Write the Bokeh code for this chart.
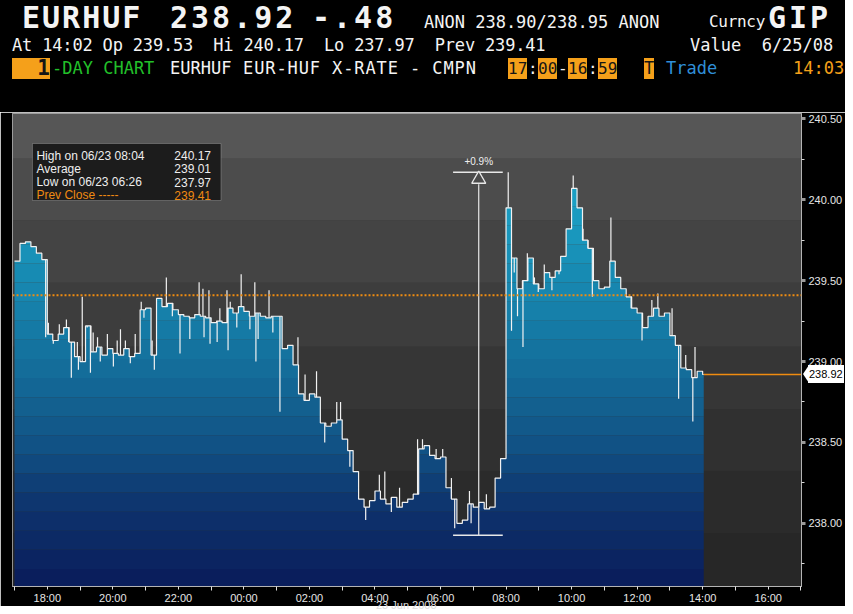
import numpy as np
from bokeh.plotting import figure
from bokeh.layouts import column
from bokeh.models import (Label, BoxAnnotation, Span, FixedTicker, PrintfTickFormatter,
                          Range1d, Div)
from bokeh.embed import file_html
from bokeh.resources import INLINE

# ---------------- data ----------------
# minutes since 17:00 (22 Jun 2008), 10-minute bars, last print at 14:02
bar_minutes = list(range(0, 1261, 10)) + [1262]
close = [239.62, 239.73, 239.74, 239.71, 239.67, 239.63, 239.17, 239.13, 239.17, 239.21,
         239.12, 239.03, 239.00, 239.22, 239.06, 239.09, 239.04, 239.08, 239.05, 239.04,
         239.08, 239.03, 239.05, 239.32, 239.33, 239.04, 239.39, 239.34, 239.36, 239.32,
         239.29, 239.28, 239.27, 239.29, 239.28, 239.27, 239.24, 239.25, 239.24, 239.33,
         239.30, 239.34, 239.31, 239.28, 239.30, 239.28, 239.27, 239.28, 239.28, 239.08,
         239.10, 238.98, 238.80, 238.76, 238.80, 238.78, 238.62, 238.60, 238.62, 238.64,
         238.52, 238.45, 238.32, 238.15, 238.10, 238.14, 238.20, 238.15, 238.12, 238.16,
         238.10, 238.13, 238.15, 238.18, 238.46, 238.48, 238.42, 238.40, 238.41, 238.22,
         238.15, 238.00, 238.02, 238.12, 238.10, 238.13, 238.09, 238.10, 238.28, 238.40,
         239.95, 239.64, 239.45, 239.50, 239.64, 239.48, 239.45, 239.55, 239.52, 239.56,
         239.65, 239.82, 240.07, 239.95, 239.75, 239.70, 239.50, 239.45, 239.46, 239.62,
         239.52, 239.45, 239.40, 239.33, 239.30, 239.21, 239.28, 239.33, 239.28, 239.30,
         239.16, 239.10, 238.96, 238.95, 238.90, 238.94, 238.92, 238.92]
spike_minutes = [57, 62, 71, 82, 95, 99, 104, 115, 117, 124, 133, 139, 144, 152, 157, 170,
                 181, 188, 194, 203, 212, 221, 232, 237, 252, 256, 278, 289, 303, 321, 338,
                 345, 347, 356, 358, 371, 376, 389, 391, 395, 407, 415, 431, 440, 442, 446,
                 466, 473, 486, 519, 532, 553, 568, 590, 597, 614, 643, 668, 678, 690, 705,
                 738, 747, 772, 784, 800, 806, 833, 836, 864, 904, 910, 915, 921, 931, 939,
                 952, 959, 970, 984, 997, 1023, 1041, 1050, 1058, 1067, 1092, 1107, 1129,
                 1149, 1167, 1178, 1204, 1216, 1229, 1242, 1246]
spike_values = [239.15, 239.24, 239.11, 239.23, 239.26, 239.12, 238.90, 239.12, 238.95, 239.40,
                239.21, 238.93, 239.18, 239.15, 239.00, 239.17, 238.97, 239.13, 239.20, 239.13,
                238.99, 239.17, 239.37, 239.27, 239.13, 238.95, 239.52, 239.28, 239.05, 239.14,
                239.49, 239.45, 239.15, 239.44, 239.11, 239.12, 239.33, 239.44, 239.07, 239.37,
                239.21, 239.54, 239.20, 239.49, 239.00, 239.14, 239.44, 239.18, 238.69, 239.15,
                238.92, 238.94, 238.50, 238.75, 238.75, 238.35, 238.02, 238.30, 238.32, 238.07,
                238.22, 238.52, 238.52, 238.46, 238.46, 238.28, 237.97, 238.20, 238.00, 238.18,
                240.17, 239.19, 239.55, 239.28, 239.09, 239.67, 239.52, 239.43, 239.60, 239.44,
                239.54, 240.15, 239.82, 239.75, 239.40, 239.50, 239.89, 239.52, 239.33, 239.13,
                239.38, 239.42, 239.33, 238.77, 239.04, 238.63, 239.09]
prev_close = 239.41
last_price = 238.92
high_val, high_min = 240.17, 904
low_val, low_min = 237.97, 806
avg_val = 239.01
x_tick_minutes = [60, 180, 300, 420, 540, 660, 780, 900, 1020, 1140, 1260, 1380]
x_tick_labels = ["18:00", "20:00", "22:00", "00:00", "02:00", "04:00",
                 "06:00", "08:00", "10:00", "12:00", "14:00", "16:00"]
x_minor_minutes = [0, 120, 240, 360, 480, 600, 720, 840, 960, 1080, 1200, 1320, 1440]
date_label = "23 Jun 2008"
y_ticks = [238.0, 238.5, 239.0, 239.5, 240.0, 240.5]
y_minor = [237.75, 238.25, 238.75, 239.25, 239.75, 240.25]

# ---------------- geometry (reference pixels -> data) ----------------
TOTAL_W, TOTAL_H = 845, 606
HDR_H = 112
FR_L, FR_R, FR_T, FR_B = 12, 803, 113, 586
PX_PER_UNIT = 161.8
X0, X1 = -3.7, 1441.0
Y1 = 240.533
Y0 = Y1 - (FR_B - FR_T) / PX_PER_UNIT


def px_x(px):
    return X0 + (px - FR_L) / (FR_R - FR_L) * (X1 - X0)


def px_y(py):
    return Y1 - (py - FR_T) / (FR_B - FR_T) * (Y1 - Y0)


DY = (Y1 - Y0) / (FR_B - FR_T)   # data per px

# ---------------- header (Bloomberg-style text rows, HTML text) ----------------
MONO = "'DejaVu Sans Mono', monospace"
parts = []


def tok(text, left, top, size, color, bold=False, bg=None, ls=0.0, h=None, w=None,
        align="left", font=MONO):
    st = ["position:absolute", "left:%dpx" % left, "top:%dpx" % top,
          "font-family:%s" % font, "font-size:%dpx" % size, "color:%s" % color,
          "white-space:pre", "letter-spacing:%.2fpx" % ls, "z-index:50"]
    st.append("font-weight:%s" % ("bold" if bold else "normal"))
    if h is not None:
        st += ["height:%dpx" % h, "line-height:%dpx" % h]
    else:
        st.append("line-height:1")
    if w is not None:
        st += ["width:%dpx" % w, "text-align:%s" % align]
    if bg:
        st.append("background:%s" % bg)
    parts.append('<span style="%s">%s</span>' % (";".join(st), text))


W = "#f4f4f4"
OR = "#f5a01a"
DK = "#151515"
# row 1
tok("EURHUF", 22, 3, 30, W, bold=True, ls=2.0)
tok("238.92", 170, 3, 30, W, bold=True, ls=3.0)
tok("-.48", 312, 3, 30, W, bold=True, ls=3.0)
tok("ANON 238.90/238.95 ANON", 424, 14, 17, W)
tok("Curncy", 709, 14, 16, W, ls=-0.3)
tok("GIP", 768, 3, 30, W, bold=True, ls=3.0)
# row 2
tok("At 14:02 Op 239.53  Hi 240.17  Lo 237.97  Prev 239.41", 12, 37, 17, W, ls=-0.17)
tok("Value  6/25/08", 690, 37, 17, W)
# row 3 (boxes 58..79)
tok("1", 12, 58, 21, DK, bold=True, bg=OR, h=21, w=38, align="right")
tok("-DAY CHART", 52, 58, 17, "#22c02a", h=21)
tok("EURHUF", 170, 58, 17, W, h=21)
tok("EUR-HUF X-RATE - CMPN", 243, 58, 17, W, h=21, ls=0.9)
tok("17", 508, 58, 16, DK, bg=OR, h=21)
tok(":", 528, 58, 16, W, h=21)
tok("00", 538, 58, 16, DK, bg=OR, h=21)
tok("-", 558, 58, 16, W, h=21)
tok("16", 568, 58, 16, DK, bg=OR, h=21)
tok(":", 588, 58, 16, W, h=21)
tok("59", 598, 58, 16, DK, bg=OR, h=21)
tok("T", 644, 58, 17, DK, bg=OR, h=21)
tok("Trade", 666, 58, 17, "#2f8fd8", h=21)
tok("14:03", 793, 58, 17, OR, h=21)

# last-price tag sitting on the price axis (HTML overlay)
tag_y = 374
parts.append('<span style="position:absolute;left:%dpx;top:%dpx;width:0;height:0;'
             'border-top:9px solid transparent;border-bottom:9px solid transparent;'
             'border-right:6px solid #ffffff;z-index:50"></span>' % (803, tag_y - 9))
parts.append('<span style="position:absolute;left:%dpx;top:%dpx;width:36px;height:18px;'
             'line-height:18px;background:#ffffff;color:#000000;font-family:\'Liberation Sans\',Arial;'
             'font-size:11px;text-align:left;padding-left:1px;z-index:50">%.2f</span>'
             % (808, tag_y - 9, last_price))
# date caption under the time axis
tok(date_label, 376, 600, 11, "#dddddd", font="'Liberation Sans', Arial")

html = ('<div style="position:relative;width:%dpx;height:%dpx;background:#000000;overflow:visible;z-index:50">'
        % (TOTAL_W, HDR_H) + "".join(parts) + "</div>")
header = Div(text=html, width=TOTAL_W, height=HDR_H, margin=0,
             styles={"overflow": "visible", "z-index": "50", "position": "relative"})

# ---------------- main chart ----------------
MAIN_H = TOTAL_H - HDR_H
p = figure(width=TOTAL_W, height=MAIN_H, x_range=Range1d(X0, X1), y_range=Range1d(Y0, Y1),
           y_axis_location="right", output_backend="svg", toolbar_location=None,
           min_border_left=FR_L, min_border_right=TOTAL_W - FR_R, min_border_top=FR_T - HDR_H,
           min_border_bottom=TOTAL_H - FR_B)
p.border_fill_color = "black"
p.background_fill_color = "#3a3a3a"
p.outline_line_color = "#b4b4b4"
p.outline_line_width = 1
p.grid.visible = False

# gray background bands
band_edges = [Y1, 240.254, 239.873, 239.487, 239.093, 238.706, 238.326, 237.94, Y0]
band_grays = ["#565656", "#4c4c4c", "#444444", "#3d3d3d", "#363636", "#303030", "#2b2b2b", "#272727"]
for k, g in enumerate(band_grays):
    p.add_layout(BoxAnnotation(top=band_edges[k], bottom=band_edges[k + 1], fill_color=g,
                               fill_alpha=1.0, line_alpha=0, level="underlay"))

# step arrays
t = np.array(bar_minutes, dtype=float)
v = np.array(close, dtype=float)
sx = np.repeat(t, 2)[1:]
sy = np.repeat(v, 2)[:-1]

# banded gradient fill under the curve
stops_v = [237.6, 238.1, 238.5, 238.9, 239.3, 239.8, 240.5]
stops_r = [10, 14, 18, 20, 22, 26, 32]
stops_g = [28, 52, 84, 106, 128, 152, 176]
stops_b = [90, 110, 134, 152, 170, 190, 208]
edges = np.arange(237.60, 240.60, 0.118)
for lo, hi in zip(edges[:-1], edges[1:]):
    mid = (lo + hi) / 2
    col = "#%02x%02x%02x" % (int(np.interp(mid, stops_v, stops_r)),
                            int(np.interp(mid, stops_v, stops_g)),
                            int(np.interp(mid, stops_v, stops_b)))
    p.varea(x=sx, y1=lo, y2=np.clip(sy, lo, hi), fill_color=col, fill_alpha=1.0)

# price line + spikes
p.line(sx, sy, line_color="#f2f2f2", line_width=1.2)
sm = np.array(spike_minutes, dtype=float)
idx = np.searchsorted(t, sm, side="right") - 1
p.segment(x0=sm, y0=v[idx], x1=sm, y1=spike_values, line_color="#f2f2f2", line_width=1.2)

# previous close dotted line
p.add_layout(Span(location=prev_close, dimension="width", line_color="#f08c10",
                  line_dash="2 2", line_width=2))
# last price line
p.segment(x0=[t[-1]], y0=[last_price], x1=[X1], y1=[last_price], line_color="#f08c10", line_width=1.3)

# high/low measurement
mid_t = (low_min + high_min) / 2 - 5
p.segment(x0=[low_min - 3, low_min - 3], y0=[high_val, low_val - 7 * DY],
          x1=[high_min - 10, high_min - 10], y1=[high_val, low_val - 7 * DY],
          line_color="#e8e8e8", line_width=1.5)
p.segment(x0=[mid_t], y0=[low_val - 7 * DY], x1=[mid_t], y1=[high_val - 12 * DY],
          line_color="#e8e8e8", line_width=1.2)
p.scatter(x=[mid_t], y=[high_val - 7 * DY], marker="triangle", size=14,
          fill_color="#4b4b4b", line_color="#e8e8e8", line_width=1.3)
pct = (high_val - low_val) / low_val * 100
p.add_layout(Label(x=mid_t, y=high_val + 11 * DY, text="+%.1f%%" % pct, text_align="center",
                   text_baseline="middle", text_font="Liberation Sans", text_font_size="10px",
                   text_color="#f0f0f0"))

# legend box
p.add_layout(BoxAnnotation(left=px_x(32), right=px_x(221), top=px_y(143), bottom=px_y(200),
                           fill_color="#1c1c1c", fill_alpha=1.0, line_color="#d0d0d0", line_width=1))
leg_rows = [("High on 06/23 08:04", "%.2f" % high_val, "#eeeeee"),
            ("Average", "%.2f" % avg_val, "#eeeeee"),
            ("Low on 06/23 06:26", "%.2f" % low_val, "#eeeeee"),
            ("Prev Close -----", "%.2f" % prev_close, "#ef8a12")]
for k, (a, b, c) in enumerate(leg_rows):
    yy = px_y(155 + 13.3 * k)
    p.add_layout(Label(x=px_x(36), y=yy, text=a, text_font="Liberation Sans",
                       text_font_size="12px", text_color=c, text_baseline="alphabetic"))
    p.add_layout(Label(x=px_x(211), y=yy, text=b, text_font="Liberation Sans",
                       text_font_size="12px", text_color=c, text_align="right",
                       text_baseline="alphabetic"))

# axes
p.yaxis.ticker = FixedTicker(ticks=y_ticks, minor_ticks=y_minor)
p.yaxis.formatter = PrintfTickFormatter(format="%.2f")
p.yaxis.axis_line_color = "#b4b4b4"
p.yaxis.major_tick_line_color = "#9a9a9a"
p.yaxis.major_tick_line_width = 3
p.yaxis.major_tick_out = 4
p.yaxis.major_tick_in = 0
p.yaxis.minor_tick_line_color = "#d8d8d8"
p.yaxis.minor_tick_out = 3
p.yaxis.minor_tick_in = 0
p.yaxis.major_label_text_color = "#e6e6e6"
p.yaxis.major_label_text_font = "Liberation Sans"
p.yaxis.major_label_text_font_size = "11px"
p.yaxis.major_label_standoff = 3

p.xaxis.ticker = FixedTicker(ticks=x_tick_minutes, minor_ticks=x_minor_minutes)
p.xaxis.major_label_overrides = dict(zip(x_tick_minutes, x_tick_labels))
p.xaxis.axis_line_color = "#b4b4b4"
p.xaxis.major_tick_line_color = "#e0e0e0"
p.xaxis.major_tick_out = 3
p.xaxis.major_tick_in = 0
p.xaxis.minor_tick_line_color = "#e0e0e0"
p.xaxis.minor_tick_out = 4
p.xaxis.minor_tick_in = 0
p.xaxis.major_label_text_color = "#e6e6e6"
p.xaxis.major_label_text_font = "Liberation Sans"
p.xaxis.major_label_text_font_size = "11px"
p.xaxis.major_label_standoff = 1

layout = column(header, p, spacing=0)
open("out.html", "w").write(file_html(layout, INLINE))
